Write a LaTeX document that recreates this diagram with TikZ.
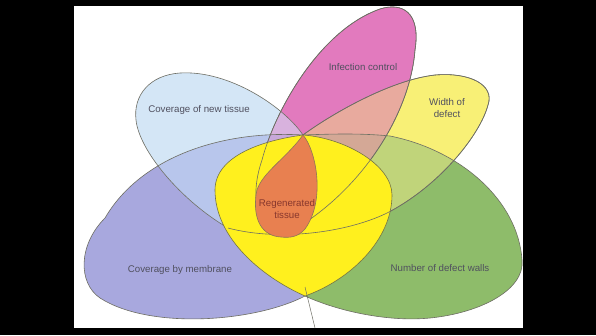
\documentclass[tikz,border=0pt]{standalone}
\usepackage{fontspec}
\setmainfont{Liberation Sans}
\definecolor{cLightBlue}{RGB}{212,230,246}
\definecolor{cPurple}{RGB}{168,168,222}
\definecolor{cBluePurple}{RGB}{184,198,236}
\definecolor{cPink}{RGB}{226,122,190}
\definecolor{cBluePink}{RGB}{216,178,222}
\definecolor{cBluePinkPurple}{RGB}{200,168,218}
\definecolor{cWidth}{RGB}{248,240,118}
\definecolor{cPinkWidth}{RGB}{232,170,158}
\definecolor{cGreen}{RGB}{142,188,106}
\definecolor{cWidthGreen}{RGB}{192,212,122}
\definecolor{cPinkWidthGreen}{RGB}{212,168,150}
\definecolor{cCenter}{RGB}{255,240,30}
\definecolor{cOrange}{RGB}{232,128,80}
\definecolor{cLine}{RGB}{110,110,100}
\definecolor{cLabel}{RGB}{80,80,95}
\definecolor{cRegen}{RGB}{135,55,45}
\def\Pblue{(303,135) .. controls (285,108) and (230,70) .. (180,73) .. controls (150,75) and (133,95) .. (136,120) .. controls (139,150) and (180,200) .. (228,228) .. controls (260,215) and (290,170) .. (303,135) -- cycle}
\def\Oblue{(303,135) .. controls (285,108) and (230,70) .. (180,73) .. controls (150,75) and (133,95) .. (136,120) .. controls (139,150) and (180,200) .. (228,228)}
\def\Pwidth{(303,135) .. controls (330,115) and (390,80) .. (435,75) .. controls (470,72) and (495,85) .. (488,105) .. controls (480,135) and (440,185) .. (389,212) .. controls (350,232) and (280,242) .. (228,228) .. controls (250,200) and (285,150) .. (303,135) -- cycle}
\def\Owidth{(303,135) .. controls (330,115) and (390,80) .. (435,75) .. controls (470,72) and (495,85) .. (488,105) .. controls (480,135) and (440,185) .. (389,212) .. controls (350,232) and (280,242) .. (228,228)}
\def\Ppink{(283,236) .. controls (255,228) and (250,195) .. (262,160) .. controls (275,110) and (320,30) .. (380,9) .. controls (402,2) and (421,12) .. (415,50) .. controls (410,115) and (360,195) .. (283,236) -- cycle}
\def\Ppurple{(305,296) .. controls (255,322) and (150,330) .. (100,298) .. controls (78,283) and (78,245) .. (105,218) .. controls (140,158) and (220,130) .. (303,135) .. controls (330,180) and (330,260) .. (305,296) -- cycle}
\def\Pgreen{(305,296) .. controls (340,312) and (390,322) .. (430,318) .. controls (480,313) and (525,290) .. (522,260) .. controls (518,200) and (460,150) .. (390,136) .. controls (360,133) and (330,134) .. (303,135) .. controls (280,180) and (280,260) .. (305,296) -- cycle}
\def\Pyellow{(303,135) .. controls (265,140) and (215,155) .. (215,190) .. controls (215,238) and (262,277) .. (305,296) .. controls (350,280) and (392,240) .. (392,195) .. controls (392,165) and (345,138) .. (303,135) -- cycle}
\def\Porange{(303,135) .. controls (316,150) and (326,200) .. (305,229) .. controls (298,237) and (290,238) .. (281,237) .. controls (262,236) and (253,220) .. (256,195) .. controls (258,175) and (285,160) .. (303,135) -- cycle}
\begin{document}
\begin{tikzpicture}[x=1pt,y=-1pt,
  edge/.style={draw=cLine,line width=0.6pt},
  lbl/.style={font=\fontsize{9.7}{11.5}\selectfont,text=cLabel,align=center,inner sep=0pt}]
\useasboundingbox (0,0) rectangle (596,335);
\fill[black] (0,0) rectangle (596,335);
\fill[white] (74,6) rectangle (523,328);
% base petals
\fill[cPurple] \Ppurple;
\fill[cGreen] \Pgreen;
\fill[cLightBlue] \Pblue;
\fill[cWidth] \Pwidth;
\fill[cPink] \Ppink;
% overlaps
\begin{scope}\clip \Pblue; \fill[cBluePurple] \Ppurple; \end{scope}
\begin{scope}\clip \Pblue; \fill[cBluePink] \Ppink; \end{scope}
\begin{scope}\clip \Pblue; \clip \Ppink; \fill[cBluePinkPurple] \Ppurple; \end{scope}
\begin{scope}\clip \Ppink; \fill[cPinkWidth] \Pwidth; \end{scope}
\begin{scope}\clip \Pwidth; \fill[cWidthGreen] \Pgreen; \end{scope}
\begin{scope}\clip \Pwidth; \clip \Ppink; \fill[cPinkWidthGreen] \Pgreen; \end{scope}
% outlines
\draw[edge] \Oblue;
\draw[edge] \Ppurple;
\draw[edge] \Pgreen;
\draw[edge] \Owidth;
\draw[edge] \Ppink;
% centre
\fill[cCenter] \Pyellow;
\draw[draw=cLine!70!olive,line width=0.6pt] \Pyellow;
\draw[edge] \Owidth;
\draw[edge] \Ppink;
\fill[cOrange] \Porange;
\draw[draw=cLine!60!brown,line width=0.6pt] \Porange;
% stem
\coordinate (stemtop) at (305,287);
\coordinate (stembot) at (315,328);
\draw[draw=cLine,line width=0.5pt] (stemtop) -- (stembot);
% labels
\node[lbl] (newtissue) at (199,110) {Coverage of new tissue};
\node[lbl] (infection) at (363,67) {Infection control};
\node[lbl] (width) at (447,108) {Width of\\defect};
\node[lbl,text=cRegen] (regen) at (287,209) {Regenerated\\tissue};
\node[lbl] (membrane) at (180,270) {Coverage by membrane};
\node[lbl] (walls) at (440,268) {Number of defect walls};
\end{tikzpicture}
\end{document}
